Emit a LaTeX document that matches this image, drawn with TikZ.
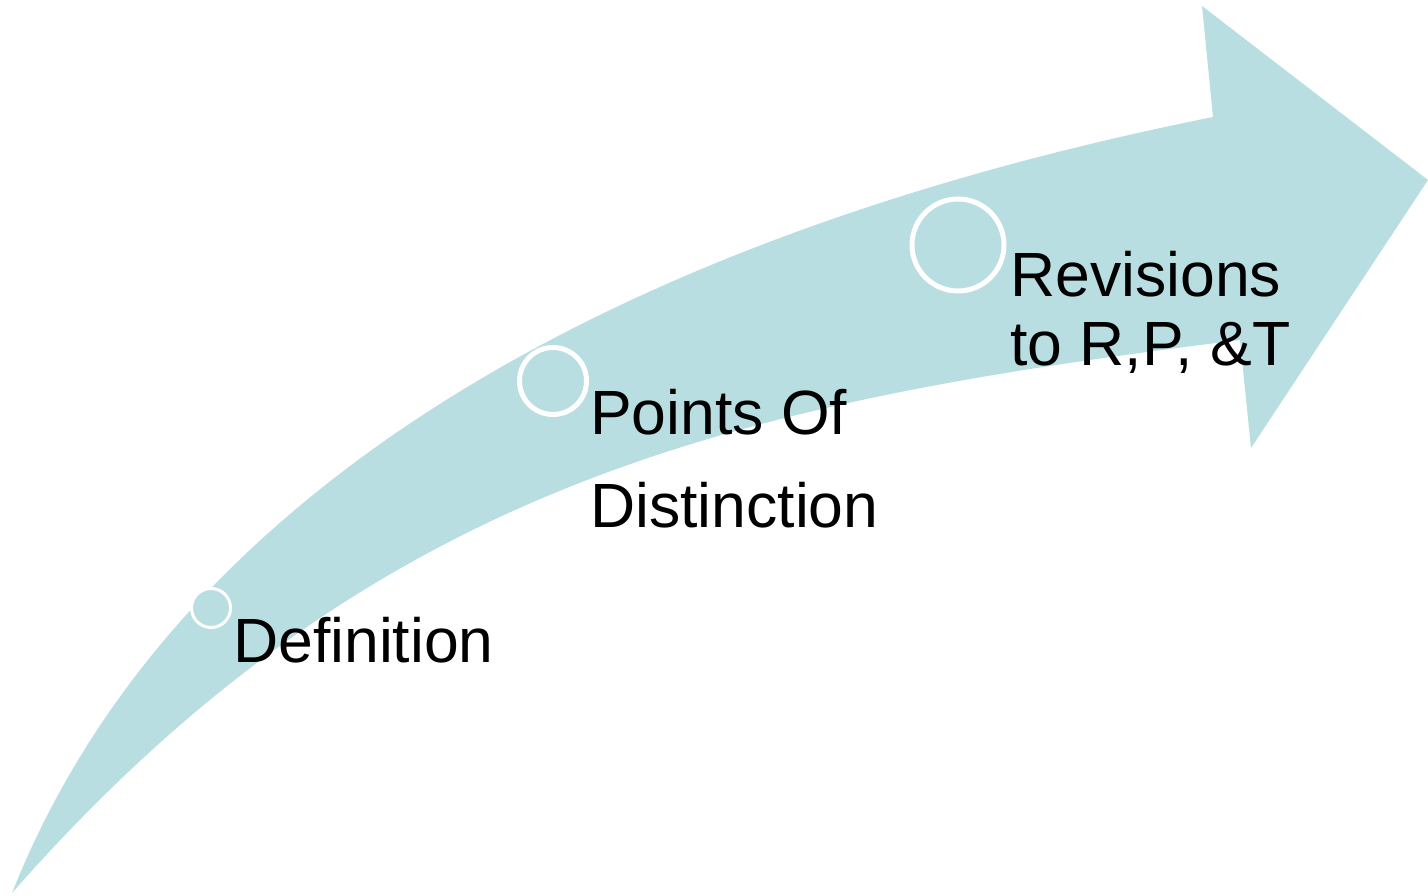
\documentclass[tikz,border=0pt]{standalone}
\usepackage{fontspec}
\setmainfont{Liberation Sans}
\usepackage{tikz}
\usetikzlibrary{positioning}
\definecolor{arrowblue}{RGB}{185,222,226}
\tikzset{
	stagering/.style={draw=white, fill=arrowblue, circle, inner sep=0pt},
	stagelabel/.style={anchor=base west, inner sep=0pt, align=left, text=black}
}
\newcommand{\bigtext}[1]{\fontsize{62.5}{#1}\selectfont}

\begin{document}
\begin{tikzpicture}[x=1pt, y=-1pt]
			\useasboundingbox (0,0) rectangle (1428,896);
			% curved arrow
			\fill[arrowblue] (12,893) .. controls (180,470) and (650,230) .. (1213,117)
				-- (1202,6) -- (1428,180) -- (1251,448) -- (1240,340)
				.. controls (740,402) and (375,480) .. (12,893) -- cycle;
			% stage markers
			\node[stagering, line width=3pt, minimum size=39pt] (c1) at (211,608) {};
			\node[stagering, line width=5pt, minimum size=67pt] (c2) at (553,381) {};
			\node[stagering, line width=5pt, minimum size=92pt] (c3) at (958,245) {};
			% labels (base = last line)
			\node[stagelabel, font=\bigtext{74}] (defn) at (233,662) {Definition};
			\node[stagelabel, font=\bigtext{93}] (points) at (590,527) {Points Of\\Distinction};
			\node[stagelabel, font=\bigtext{69}] (revisions) at (1010,365) {Revisions\\to R,P, \&T};
\end{tikzpicture}
\end{document}
